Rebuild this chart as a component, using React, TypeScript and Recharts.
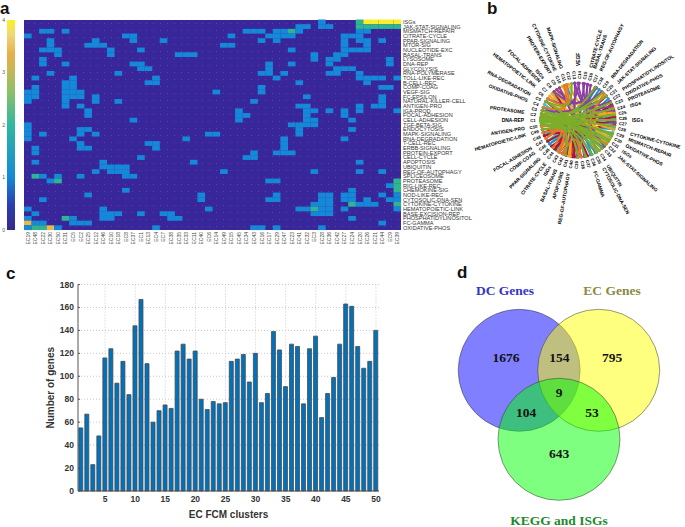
import React from 'react';
import {
    BarChart, Bar, ScatterChart, Scatter, ComposedChart, Line, XAxis, YAxis, CartesianGrid,
} from 'recharts';

// panel a
const pathways = [
    'ISGs', 'JAK-STAT-SIGNALING', 'MISMATCH-REPAIR', 'CITRATE-CYCLE', 'PPAR-SIGNALING', 'MTOR-SIG', 'NUCLEOTIDE-EXC',
    'BASAL-TRANS', 'LYSOSOME', 'DNA-REP', 'GLYCOLYSIS', 'RNA-POLYMERASE', 'TOLL-LIKE-REC', 'B-CELL-REC', 'COMP-COAG',
    'VEGF-SIG', 'FC-EPSILON', 'NATURAL-KILLER-CELL', 'ANTIGEN-PRO', 'IGA-PROD', 'FOCAL-ADHESION', 'CELL-ADHESION',
    'TGF-BETA-SIG', 'ENDOCYTOSIS', 'MAPK-SIGNALING', 'RNA-DEGRADATION', 'T-CELL-REC', 'ERBB-SIGNALING', 'PROTEIN-EXPORT',
    'CELL-CYCLE', 'APOPTOSIS', 'UBIQUITIN', 'REG-OF-AUTOPHAGY', 'SPLICEOSOME', 'PROTEASOME', 'RIG-LIKE-REC',
    'CHEMOKINE-SIG', 'NOD-LIKE-REC', 'CYTOSOLIC-DNA-SEN', 'CYTOKINE-CYTOKINE', 'HEMATOPOIETIC-LINK', 'BASE-EXCISION-REP',
    'PHOSPHATIDYLINOSITOL', 'FC-GAMMA', 'OXIDATIVE-PHOS',
];
const heatClusters = [
    'EC19', 'EC48', 'EC22', 'EC30', 'EC50', 'EC31', 'EC5', 'EC2', 'EC25', 'EC12', 'EC46', 'EC10', 'EC18', 'EC8', 'EC37',
    'EC1', 'EC13', 'EC4', 'EC7', 'EC38', 'EC35', 'EC33', 'EC11', 'EC40', 'EC6', 'EC14', 'EC49', 'EC15', 'EC45', 'EC34',
    'EC43', 'EC16', 'EC17', 'EC29', 'EC47', 'EC23', 'EC41', 'EC32', 'EC3', 'EC28', 'EC36', 'EC42', 'EC27', 'EC24', 'EC20',
    'EC26', 'EC21', 'EC44', 'EC9', 'EC39',
];
// columns holding a 1, row by row
const onesByRow = [
    [39], [36, 37, 39, 40], [2, 3, 5, 29, 30, 31, 33, 34, 36, 44, 45], [0, 13, 14, 27, 32, 33, 34, 35, 42, 43, 44],
    [3, 9, 14, 18, 31, 33, 42, 44, 45, 47], [3, 8, 9, 10, 26, 27, 42, 45], [2, 3, 4, 11, 15, 35, 42, 43, 44, 45],
    [4, 11, 20, 21, 22, 38, 41, 42], [2, 38, 40, 41, 48], [2, 5, 14, 15, 32, 35, 40, 48], [15, 16, 32, 41, 42, 43],
    [3, 12, 31, 32, 34, 40, 41, 44], [1, 6, 17, 33, 44, 45, 46, 47, 49], [5, 6, 16, 17, 36, 45], [1, 5, 6, 31, 47, 48],
    [0, 1, 5, 6, 7, 25, 31], [0, 1, 5, 6, 7, 9, 37, 47], [0, 5, 9, 12, 30, 47], [5, 7, 36, 37, 44, 46, 47],
    [8, 28, 37, 38, 40, 42, 44, 49], [8, 28, 29, 37, 42], [14, 28, 37, 38, 43], [0, 35, 36, 37, 38], [0, 7, 8, 36, 43],
    [0, 2, 7, 9, 24, 25, 36], [0, 6, 21, 34, 42], [7, 16, 17, 34], [1, 7, 8, 17, 34], [1, 30, 33, 34, 35], [15, 29, 30],
    [1, 10, 22, 44], [10, 11, 12, 13], [9, 11, 12, 13, 26, 38, 44, 47], [2, 4, 7, 13, 14], [3, 32, 33], [48], [13, 43],
    [8, 23, 33, 39, 40, 42, 43, 47, 49], [2, 23, 32, 33, 39, 40, 42, 43, 45, 48, 49], [38, 39, 40, 44, 45, 46],
    [0, 10, 24, 36, 37, 39, 40, 42, 49], [1, 10, 11, 12, 15, 18, 19, 38, 39, 40], [0, 6, 10, 11, 19, 20, 43],
    [1, 2, 6, 7, 8, 47], [0, 4, 17, 30, 31, 33, 39],
];
// [row, col]
const twos = [
    [0, 44], [1, 44], [1, 45], [1, 46], [1, 47], [1, 48], [1, 49], [2, 35], [33, 1], [34, 4], [34, 49], [35, 49], [36, 49],
    [39, 43], [39, 49], [40, 38], [42, 5], [44, 1], [44, 2],
];
const threes = [[43, 0], [44, 3]];
const fours = [[0, 45], [0, 46], [0, 47], [0, 48], [0, 49]];
const colorbarTicks = [0, 1, 2, 3, 4];

// panel b: every angle in degrees, counter-clockwise from the right
const outerLabels: [string, number][] = [
    ['CITRATE-CYCLE', 76], ['BASAL-TRANS', 72], ['REG-OF-AUTOPHAGY', 65], ['RNA-DEGRADATION', 51], ['JAK-STAT-SIGNALING', 43],
    ['PHOSPHATIDYLINOSITOL', 34], ['OXIDATIVE-PHOS', 28], ['PROTEASOME', 22], ['ISGs', 15], ['ISGs', 0],
    ['CYTOKINE-CYTOKINE', -15], ['MISMATCH-REPAIR', -21], ['OXIDATIVE-PHOS', -28], ['ISGs', -35], ['JAK-STAT-SIGNALING', -42],
    ['UBIQUITIN', -57], ['CYTOSOLIC-DNA-SEN', -62], ['FC-GAMMA', -72], ['REG-OF-AUTOPHAGY', 260], ['APOPTOSIS', 253],
    ['BASAL-TRANS', 246], ['ISGs', 239], ['CITRATE-CYCLE', 233], ['PPAR-SIGNALING', 225], ['COMP-COAG', 217],
    ['FOCAL-ADHESION', 211], ['HEMATOPOIETIC-LINK', 196], ['ANTIGEN-PRO', 189], ['DNA-REP', 180], ['PROTEASOME', 172],
    ['OXIDATIVE-PHOS', 159], ['RNA-DEGRADATION', 152], ['HEMATOPOIETIC-LINK', 142], ['FOCAL-ADHESION', 135], ['ISGs', 130],
    ['PROTEIN-EXPORT', 121], ['CYTOKINE-CYTOKINE', 115], ['MAPK-SIGNALING', 108], ['VEGF', 90],
];
const ringAngles = [
    180, 173, 166, 159, 152, 145, 138, 130, 123, 116, 109, 102, 95, 88, 81, 74, 67, 60, 52, 45, 38, 31, 24, 16, 9, 2,
    -5, -12, -20, -27, -34, -41, -48, -56, -63, -70, -77, -84, -92, -99, -106, -113, -120, -128, -135, -142, -149, -156, -164, -171,
];
const chordsTeal = [[-5, 215], [-12, 225], [-20, 235], [-28, 205], [8, 248], [60, 215], [132, 205], [155, 235], [-45, 200], [-55, 245], [2, 220], [-140, 30]];
const chordsBlue = [[-62, 170], [-70, 160], [-78, 150], [-50, 165], [-40, 200], [-35, 250], [195, -22], [205, 30], [220, -15], [62, 255], [108, -68], [230, -48], [35, 262], [-120, 55]];
const chordsCrimson = [[5, 225], [12, 240], [18, 252], [25, 262], [-8, 270], [-85, 205], [-95, 150], [-75, 250], [-100, 130], [40, 232], [30, 245], [215, -3], [-130, 22], [-160, 16]];
const chordsGold = [[140, -30], [130, -25], [120, -38], [150, -15], [165, -45], [115, 10], [105, 15], [-60, 20], [125, 250], [135, 258], [-105, 110], [12, 180], [240, 48]];
const chordsPurple = [[90, 30], [82, 22], [75, 40], [125, 60], [70, -5], [88, 145], [75, -45], [62, 130], [-92, 80], [-110, 95], [-80, 120], [50, 165], [95, 15]];
const chordsOrange = [[190, 228], [200, 238], [210, 170], [248, 180], [-115, -85], [-90, -40], [195, 240], [160, 112], [145, 108], [45, -60], [-150, -170]];
const chordsGreen = [
    [178, 28], [180, 18], [176, 8], [182, 0], [175, -10], [178, -22], [180, -32], [183, -42], [177, -50], [172, -60], [186, -68],
    [180, -78], [175, 48], [182, 62], [170, 40], [188, -90], [165, -25], [195, -35], [178, -110], [150, -55], [100, 150],
];

// panel c
const geneCounts = [
    55, 67, 23, 48, 116, 124, 94, 113, 84, 144, 167, 111, 60, 70, 75, 72, 122, 128, 115, 122, 80, 71, 78, 76, 77,
    113, 115, 119, 95, 120, 77, 85, 139, 123, 91, 128, 126, 76, 124, 135, 64, 85, 99, 128, 163, 161, 126, 107, 113, 140,
];
const clusterTicks = [5, 10, 15, 20, 25, 30, 35, 40, 45, 50];
const geneTicks = [0, 20, 40, 60, 80, 100, 120, 140, 160, 180];

// panel d
const vennNames = ['DC Genes', 'EC Genes', 'KEGG and ISGs'];
const vennColors = ['#0000ff', '#ffff00', '#00ff00'];
const vennX = [89.2, 168.7, 129];
const vennY = [100.3, 100.3, 169.3];
const vennRadius = 61;
const regionCounts = ['1676', '154', '795', '9', '104', '53', '643'];
const regionX = [76, 129.3, 182, 129, 96, 162, 129];
const regionY = [87, 87, 87, 122, 142, 142, 183];
const vennTitleX = [75, 182, 129];
const vennTitleY = [20, 20, 250];
const vennTitleColors = ['#3434c8', '#8c8a3e', '#1c8a2c'];

const heatColors = ['#37279b', '#1588d8', '#2fb592', '#e6b94e', '#fdee2c'];
const heatValue = (row: number, col: number) => {
    const has = (list: number[][]) => list.some((c) => c[0] === row && c[1] === col);
    if (has(fours)) return 4;
    if (has(threes)) return 3;
    if (has(twos)) return 2;
    return onesByRow[row].includes(col) ? 1 : 0;
};
const heatCells = pathways
    .flatMap((_, row) => heatClusters.map((_c, col) => ({ col: col + 0.5, row: row + 0.5, value: heatValue(row, col) })))
    .filter((c) => c.value > 0);

const HEAT_W = 377;
const HEAT_H = 210.5;
const rad = (deg: number) => (deg * Math.PI) / 180;
const polar = (deg: number, r: number) => ({ x: r * Math.cos(rad(deg)), y: r * Math.sin(rad(deg)) });

const chordGroups: [string, number[][]][] = [
    ['#3fc0c4', chordsTeal], ['#2490d4', chordsBlue], ['#b2122f', chordsCrimson], ['#f0a91c', chordsGold],
    ['#8c3ea2', chordsPurple], ['#e8782a', chordsOrange], ['#7cae2a', chordsGreen],
];
const chordList = chordGroups.flatMap(([color, pairs]) =>
    pairs.map(([from, to]) => ({
        color,
        points: [polar(from, 37), { x: polar(from, 6).x + polar(to, 6).x, y: polar(from, 6).y + polar(to, 6).y }, polar(to, 37)],
    })),
);
const outerPoints = outerLabels.map(([name, angle]) => ({ ...polar(angle, 54), name, angle }));
const ringPoints = ringAngles.map((angle, i) => ({ ...polar(angle, 45), name: `C${i + 1}`, angle }));

const radialText = (anchored: boolean, fontSize: number) => (props: any) => {
    const { cx, cy, payload } = props;
    const right = Math.cos(rad(payload.angle)) >= 0;
    const turn = right ? -payload.angle : 180 - payload.angle;
    return (
        <text
            transform={`translate(${cx},${cy}) rotate(${turn})`}
            textAnchor={anchored ? (right ? 'start' : 'end') : 'middle'}
            dominantBaseline="central"
            fontSize={fontSize}
            fontWeight={700}
            fontFamily="Liberation Sans"
            fill="#000"
        >
            {payload.name}
        </text>
    );
};

const HeatCell = (props: any) => {
    const w = HEAT_W / heatClusters.length;
    const h = HEAT_H / pathways.length;
    return (
        <rect
            x={props.cx - w / 2}
            y={props.cy - h / 2}
            width={w + 0.1}
            height={h + 0.1}
            fill={heatColors[props.payload.value]}
        />
    );
};

const HeatXTick = (props: any) => (
    <text
        transform={`translate(${props.x},${props.y + 2}) rotate(-90)`}
        textAnchor="end"
        dominantBaseline="central"
        fontSize={5}
        fill="#444"
        fontFamily="Liberation Sans"
    >
        {heatClusters[Math.floor(props.payload.value)]}
    </text>
);

const Letter = ({ x, y, children }: { x: number; y: number; children: string }) => (
    <div style={{ position: 'absolute', left: x, top: y, font: '700 17px "Liberation Sans"', lineHeight: '15px', color: '#111' }}>
        {children}
    </div>
);

const VennCircle = (props: any) => (
    <circle cx={props.cx} cy={props.cy} r={vennRadius} fill={props.payload.color} fillOpacity={0.5} stroke="#333" strokeWidth={0.5} />
);
const VennText = (props: any) => (
    <text
        x={props.cx}
        y={props.cy}
        textAnchor="middle"
        dominantBaseline="central"
        fontFamily="Liberation Serif"
        fontWeight={700}
        fontSize={props.payload.size}
        fill={props.payload.color}
    >
        {props.payload.name}
    </text>
);

const axisText = { fontSize: 8.5, fontWeight: 700, fontFamily: 'Liberation Sans', fill: '#333' };

export default function App() {
    const barData = geneCounts.map((genes, i) => ({ cluster: i + 1, genes }));
    const vennCircles = vennNames.map((name, i) => ({ name, x: vennX[i], y: vennY[i], color: vennColors[i] }));
    const vennLabels = [
        ...regionCounts.map((name, i) => ({ name, x: regionX[i], y: regionY[i], color: '#111', size: 13.5 })),
        ...vennNames.map((name, i) => ({ name, x: vennTitleX[i], y: vennTitleY[i], color: vennTitleColors[i], size: 13.5 })),
    ];

    return (
        <div style={{ position: 'absolute', left: 0, top: 0, width: 685, height: 527, background: '#fff', overflow: 'hidden' }}>
            <Letter x={0} y={1}>a</Letter>
            <Letter x={487} y={1}>b</Letter>
            <Letter x={6} y={266}>c</Letter>
            <Letter x={457} y={265}>d</Letter>

            {/* colour bar */}
            <div style={{ position: 'absolute', left: 0, top: 0 }}>
                <BarChart
                    width={15}
                    height={240}
                    data={[{ name: 'scale', top: 4 }]}
                    margin={{ top: 20, right: 0, bottom: 10, left: 0 }}
                    barCategoryGap={0}
                >
                    <defs>
                        <linearGradient id="parula" x1="0" y1="1" x2="0" y2="0">
                            <stop offset="0" stopColor="#352a87" />
                            <stop offset="0.12" stopColor="#2b3fb0" />
                            <stop offset="0.25" stopColor="#1488d8" />
                            <stop offset="0.5" stopColor="#2eb8a0" />
                            <stop offset="0.66" stopColor="#8cc066" />
                            <stop offset="0.75" stopColor="#c0b85a" />
                            <stop offset="0.84" stopColor="#e8b048" />
                            <stop offset="0.93" stopColor="#ecd878" />
                            <stop offset="1" stopColor="#fdf020" />
                        </linearGradient>
                    </defs>
                    <XAxis dataKey="name" hide />
                    <YAxis
                        width={7}
                        domain={[0, 4]}
                        ticks={colorbarTicks}
                        interval={0}
                        axisLine={false}
                        tickLine={false}
                        tickSize={0}
                        tickMargin={2}
                        tick={{ fontSize: 5, fill: '#555', fontFamily: 'Liberation Sans' }}
                    />
                    <Bar dataKey="top" fill="url(#parula)" isAnimationActive={false} />
                </BarChart>
            </div>

            {/* heat map */}
            <div
                style={{
                    position: 'absolute',
                    left: 24,
                    top: 19.5,
                    width: HEAT_W,
                    height: HEAT_H,
                    backgroundColor: '#37279b',
                    backgroundImage: 'radial-gradient(circle, #74389a 0.5px, transparent 0.8px)',
                    backgroundSize: '7px 7px',
                }}
            />
            <div style={{ position: 'absolute', left: 0, top: 0 }}>
                <ScatterChart
                    width={486}
                    height={258}
                    margin={{ top: 19.5, right: 0, bottom: 0, left: 24 }}
                >
                    <XAxis
                        type="number"
                        dataKey="col"
                        height={28}
                        domain={[0, 50]}
                        ticks={heatClusters.map((_, i) => i + 0.5)}
                        interval={0}
                        axisLine={false}
                        tickLine={false}
                        tickSize={0}
                        tickMargin={0}
                        tick={HeatXTick}
                    />
                    <YAxis
                        type="number"
                        dataKey="row"
                        orientation="right"
                        width={85}
                        reversed
                        domain={[0, 45]}
                        ticks={pathways.map((_, i) => i + 0.5)}
                        interval={0}
                        axisLine={false}
                        tickLine={false}
                        tickSize={0}
                        tickMargin={2}
                        tickFormatter={(v: number) => pathways[Math.floor(v)]}
                        tick={{ fontSize: 5.6, fill: '#333', fontFamily: 'Liberation Sans' }}
                    />
                    <Scatter data={heatCells} shape={HeatCell} isAnimationActive={false} />
                </ScatterChart>
            </div>

            {/* chord diagram */}
            <div style={{ position: 'absolute', left: 467.5, top: 10 }}>
                <ComposedChart width={220} height={220} margin={{ top: 0, right: 0, bottom: 0, left: 0 }}>
                    <XAxis type="number" dataKey="x" domain={[-110, 110]} hide allowDuplicatedCategory={false} />
                    <YAxis type="number" dataKey="y" domain={[-110, 110]} hide />
                    {chordList.map((chord, i) => (
                        <Line
                            key={i}
                            data={chord.points}
                            dataKey="y"
                            type="basis"
                            stroke={chord.color}
                            strokeWidth={2}
                            dot={(p: any) =>
                                p.index === 1 ? (
                                    <g key={p.index} />
                                ) : (
                                    <circle key={p.index} cx={p.cx} cy={p.cy} r={1.6} fill={chord.color} />
                                )
                            }
                            isAnimationActive={false}
                            legendType="none"
                        />
                    ))}
                    <Scatter data={outerPoints} shape={radialText(true, 4.9)} isAnimationActive={false} />
                    <Scatter data={ringPoints} shape={radialText(false, 4.4)} isAnimationActive={false} />
                </ComposedChart>
            </div>

            {/* gene counts */}
            <div style={{ position: 'absolute', left: 0, top: 270 }}>
                <BarChart
                    width={395}
                    height={257}
                    data={barData}
                    margin={{ top: 14.5, right: 16, bottom: 0, left: 0 }}
                    barCategoryGap="13%"
                >
                    <CartesianGrid stroke="#c8c8c8" strokeDasharray="1 2" syncWithTicks />
                    <XAxis
                        dataKey="cluster"
                        height={36}
                        ticks={clusterTicks}
                        interval={0}
                        stroke="#555"
                        tickSize={-2}
                        tickMargin={7}
                        tick={axisText}
                        label={{ value: 'EC FCM clusters', position: 'insideBottom', offset: 9, style: { ...axisText, fontSize: 10 } }}
                    />
                    <XAxis xAxisId="top" dataKey="cluster" orientation="top" ticks={clusterTicks} interval={0} stroke="#555" tickSize={-2} tick={false} height={0} />
                    <YAxis
                        width={78}
                        domain={[0, 180]}
                        ticks={geneTicks}
                        interval={0}
                        stroke="#555"
                        tickSize={-2}
                        tickMargin={6}
                        tick={axisText}
                        label={{ value: 'Number of genes', angle: -90, position: 'insideLeft', offset: 50, style: { ...axisText, fontSize: 10, textAnchor: 'middle' } }}
                    />
                    <YAxis yAxisId="right" orientation="right" domain={[0, 180]} ticks={geneTicks} stroke="#555" tickSize={-2} tick={false} width={0} />
                    <Bar dataKey="genes" fill="#0072bd" stroke="#4a4a4a" strokeWidth={0.8} isAnimationActive={false} />
                    <Bar xAxisId="top" yAxisId="right" dataKey="genes" fill="none" stroke="none" isAnimationActive={false} />
                </BarChart>
            </div>

            {/* venn */}
            <div style={{ position: 'absolute', left: 430, top: 270 }}>
                <ScatterChart width={255} height={257} margin={{ top: 0, right: 0, bottom: 0, left: 0 }}>
                    <XAxis type="number" dataKey="x" domain={[0, 255]} hide />
                    <YAxis type="number" dataKey="y" domain={[0, 257]} reversed hide />
                    <Scatter data={vennCircles} shape={VennCircle} isAnimationActive={false} />
                    <Scatter data={vennLabels} shape={VennText} isAnimationActive={false} />
                </ScatterChart>
            </div>
        </div>
    );
}
